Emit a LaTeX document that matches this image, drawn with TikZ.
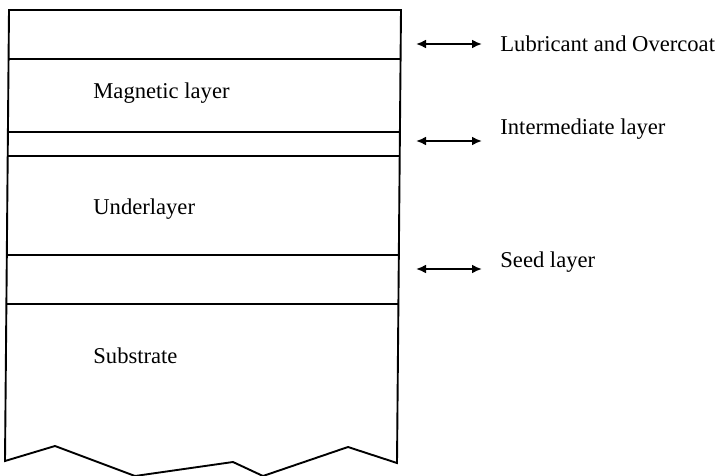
\documentclass[tikz,border=0pt]{standalone}
\usepackage{fontspec}
\setmainfont{Liberation Serif}
\usepackage{tikz}
\usetikzlibrary{arrows.meta, positioning}

\begin{document}
\begin{tikzpicture}
  [
    x=0.5pt, y=-0.5pt,
    Layer/.style={line width=0.95pt, draw=black},
    Name/.style={anchor=base west, inner sep=0pt, font=\fontsize{11.3}{13}\selectfont},
    Twin/.style={{Latex[length=5pt, width=4.4pt]}-{Latex[length=5pt, width=4.4pt]}, line width=0.9pt}
  ]
  \useasboundingbox (0, 0) rectangle (723, 476);
  % Layers
  \draw[Layer] (9, 10) -- (401, 10) -- (397, 463) -- (348, 447) -- (263, 476)
    -- (233, 462) -- (135, 476) -- (55, 446) -- (5, 461) -- cycle;
  \draw[Layer] (9, 59) -- (401, 59);
  \draw[Layer] (8, 132) -- (400, 132);
  \draw[Layer] (8, 156) -- (400, 156);
  \draw[Layer] (7, 255) -- (399, 255);
  \draw[Layer] (7, 304) -- (399, 304);
  % Nodes
  \node[Name] (mag) at(93, 99) {Magnetic layer};
  \node[Name] (under) at(93, 214) {Underlayer};
  \node[Name] (sub) at(93, 363) {Substrate};
  \node[Name] (lub) at(500, 52) {Lubricant and Overcoat};
  \node[Name] (inter) at(500, 134) {Intermediate layer};
  \node[Name] (seed) at(500, 267) {Seed layer};
  \coordinate (lubL) at(416, 44);
  \coordinate (lubR) at(482, 44);
  \coordinate (interL) at(416, 141);
  \coordinate (interR) at(482, 141);
  \coordinate (seedL) at(416, 269);
  \coordinate (seedR) at(482, 269);
  % Lines
  \draw[Twin] (lubL) -- (lubR);
  \draw[Twin] (interL) -- (interR);
  \draw[Twin] (seedL) -- (seedR);
\end{tikzpicture}
\end{document}
